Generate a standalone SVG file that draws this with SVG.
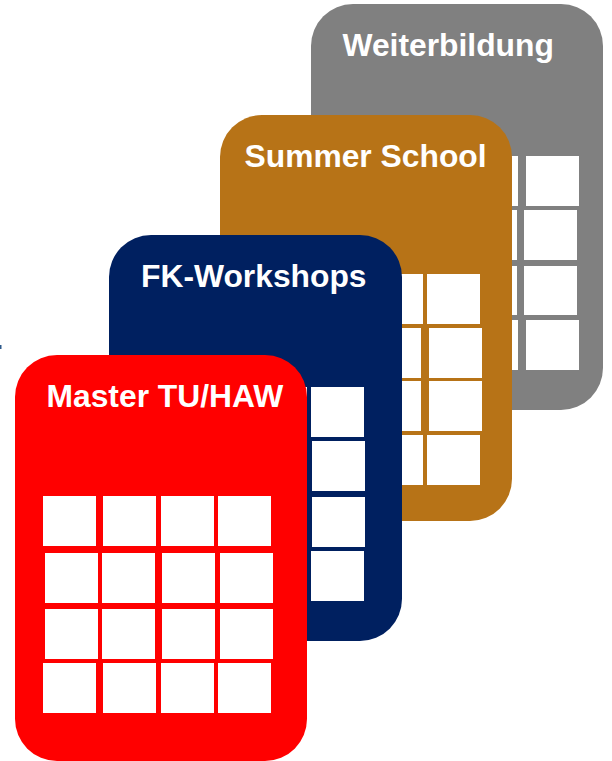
<svg xmlns="http://www.w3.org/2000/svg" width="612" height="761" viewBox="0 0 612 761">
<style>
.card{stroke:none}
.sq{fill:#FFFFFF}
.lbl{font-family:"Liberation Sans",Arial,sans-serif;font-weight:bold;font-size:31.8px;fill:#FFFFFF}
</style>
<rect x="0" y="345" width="1.5" height="4" fill="#2E5A8C"/>
<g id="weiterbildung">
<rect class="card" x="311" y="4" width="292" height="406" rx="42" ry="42" fill="#808080"/>
<text class="lbl" x="342.5" y="56">Weiterbildung</text>
<g>
<rect class="sq" x="345" y="156" width="53" height="50"/><rect class="sq" x="405" y="156" width="53" height="50"/><rect class="sq" x="465" y="156" width="53" height="50"/><rect class="sq" x="526" y="156" width="53" height="50"/>
<rect class="sq" x="346" y="210" width="53" height="50"/><rect class="sq" x="404" y="210" width="53" height="50"/><rect class="sq" x="464" y="210" width="53" height="50"/><rect class="sq" x="524" y="210" width="53" height="50"/>
<rect class="sq" x="346" y="266" width="53" height="49"/><rect class="sq" x="404" y="266" width="53" height="49"/><rect class="sq" x="464" y="266" width="53" height="49"/><rect class="sq" x="524" y="266" width="53" height="49"/>
<rect class="sq" x="345" y="320" width="53" height="50"/><rect class="sq" x="405" y="320" width="53" height="50"/><rect class="sq" x="465" y="320" width="53" height="50"/><rect class="sq" x="526" y="320" width="53" height="50"/>
</g>
</g>
<g id="summer-school">
<rect class="card" x="220" y="115" width="292" height="406" rx="42" ry="42" fill="#B77317"/>
<text class="lbl" x="244.5" y="167">Summer School</text>
<g>
<rect class="sq" x="252" y="274" width="53" height="50"/><rect class="sq" x="312" y="274" width="53" height="50"/><rect class="sq" x="370" y="274" width="53" height="50"/><rect class="sq" x="427" y="274" width="53" height="50"/>
<rect class="sq" x="254" y="328" width="53" height="50"/><rect class="sq" x="311" y="328" width="53" height="50"/><rect class="sq" x="368" y="328" width="53" height="50"/><rect class="sq" x="429" y="328" width="53" height="50"/>
<rect class="sq" x="254" y="381" width="53" height="50"/><rect class="sq" x="311" y="381" width="53" height="50"/><rect class="sq" x="368" y="381" width="53" height="50"/><rect class="sq" x="429" y="381" width="53" height="50"/>
<rect class="sq" x="252" y="435" width="53" height="50"/><rect class="sq" x="312" y="435" width="53" height="50"/><rect class="sq" x="370" y="435" width="53" height="50"/><rect class="sq" x="427" y="435" width="53" height="50"/>
</g>
</g>
<g id="fk-workshops">
<rect class="card" x="109" y="235" width="293" height="406" rx="42" ry="42" fill="#002060"/>
<text class="lbl" x="141" y="287">FK-Workshops</text>
<g>
<rect class="sq" x="136" y="387" width="53" height="50"/><rect class="sq" x="196" y="387" width="53" height="50"/><rect class="sq" x="254" y="387" width="53" height="50"/><rect class="sq" x="311" y="387" width="53" height="50"/>
<rect class="sq" x="137" y="441" width="53" height="50"/><rect class="sq" x="194" y="441" width="53" height="50"/><rect class="sq" x="254" y="441" width="53" height="50"/><rect class="sq" x="312" y="441" width="53" height="50"/>
<rect class="sq" x="137" y="497" width="53" height="50"/><rect class="sq" x="194" y="497" width="53" height="50"/><rect class="sq" x="254" y="497" width="53" height="50"/><rect class="sq" x="312" y="497" width="53" height="50"/>
<rect class="sq" x="136" y="551" width="53" height="50"/><rect class="sq" x="196" y="551" width="53" height="50"/><rect class="sq" x="254" y="551" width="53" height="50"/><rect class="sq" x="311" y="551" width="53" height="50"/>
</g>
</g>
<g id="master-tu-haw">
<rect class="card" x="15" y="355" width="292" height="406" rx="42" ry="42" fill="#FF0000"/>
<text class="lbl" x="46.5" y="407">Master TU/HAW</text>
<g>
<rect class="sq" x="43" y="496" width="53" height="50"/><rect class="sq" x="103" y="496" width="53" height="50"/><rect class="sq" x="161" y="496" width="53" height="50"/><rect class="sq" x="218" y="496" width="53" height="50"/>
<rect class="sq" x="45" y="553" width="53" height="50"/><rect class="sq" x="102" y="553" width="53" height="50"/><rect class="sq" x="162" y="553" width="53" height="50"/><rect class="sq" x="220" y="553" width="53" height="50"/>
<rect class="sq" x="45" y="609" width="53" height="50"/><rect class="sq" x="102" y="609" width="53" height="50"/><rect class="sq" x="162" y="609" width="53" height="50"/><rect class="sq" x="220" y="609" width="53" height="50"/>
<rect class="sq" x="43" y="663" width="53" height="50"/><rect class="sq" x="103" y="663" width="53" height="50"/><rect class="sq" x="161" y="663" width="53" height="50"/><rect class="sq" x="218" y="663" width="53" height="50"/>
</g>
</g>
</svg>
